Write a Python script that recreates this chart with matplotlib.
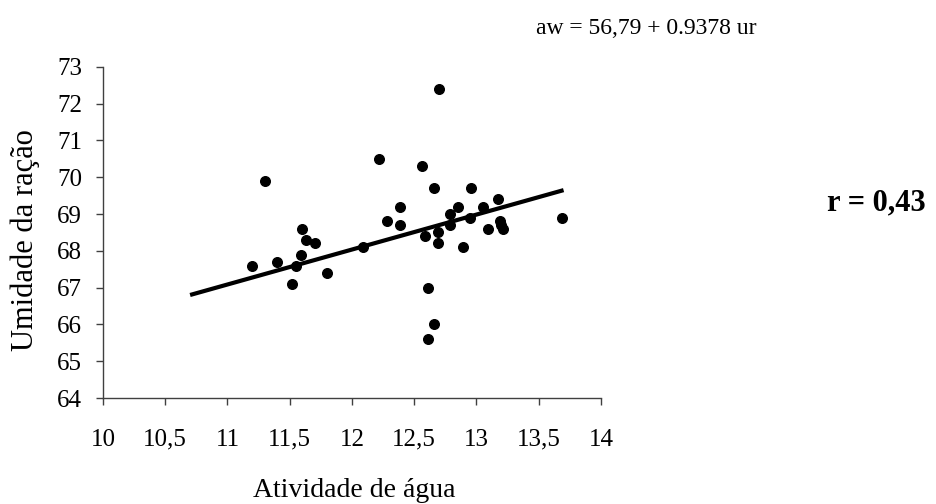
import numpy as np
import matplotlib.pyplot as plt

plt.rcParams['font.family'] = ['Liberation Serif', 'DejaVu Serif']

# dados
aw = [11.3, 11.2, 11.4, 11.6, 11.63, 11.7, 11.59, 11.55, 11.52, 11.8,
      12.7, 12.22, 12.56, 12.66, 12.96, 12.39, 12.28, 12.39, 12.09, 12.85,
      12.79, 12.79, 13.05, 13.17, 12.95, 12.59, 12.69, 12.69, 12.89, 13.09,
      13.19, 13.2, 13.21, 13.69, 12.61, 12.66, 12.61]
ur = [69.9, 67.6, 67.7, 68.6, 68.3, 68.2, 67.9, 67.6, 67.1, 67.4,
      72.4, 70.5, 70.3, 69.7, 69.7, 69.2, 68.8, 68.7, 68.1, 69.2,
      69.0, 68.7, 69.2, 69.4, 68.9, 68.4, 68.5, 68.2, 68.1, 68.6,
      68.8, 68.7, 68.6, 68.9, 67.0, 66.0, 65.6]

# reta ajustada (extremos lidos)
line_x = [10.7, 13.7]
line_y = [66.8, 69.65]

xticks = [10, 10.5, 11, 11.5, 12, 12.5, 13, 13.5, 14]
xlabels = ["10", "10,5", "11", "11,5", "12", "12,5", "13", "13,5", "14"]
yticks = list(range(64, 74))

fig = plt.figure(figsize=(9.36, 5.04), dpi=100)
ax = fig.add_axes([0.110, 0.2103, 0.532, 0.657])

ax.plot(line_x, line_y, color='black', lw=3, solid_capstyle='butt', zorder=2)
ax.scatter(aw, ur, s=48, color='black', zorder=3)

ax.set_xlim(10, 14)
ax.set_ylim(64, 73)
ax.set_xticks(xticks)
ax.set_xticklabels(xlabels)
ax.set_yticks(yticks)

for side in ['top', 'right']:
    ax.spines[side].set_visible(False)
for side in ['left', 'bottom']:
    ax.spines[side].set_color('#404040')
    ax.spines[side].set_linewidth(1)
ax.tick_params(direction='out', length=5, width=1, color='#404040',
               labelsize=18)
ax.tick_params(axis='x', pad=17)
ax.tick_params(axis='y', pad=10)

ax.set_xlabel("Atividade de água", fontsize=20, va='baseline')
ax.xaxis.set_label_coords(0.378, 0.014, transform=fig.transFigure)
ax.set_ylabel("Umidade da ração", fontsize=22, va='center')
ax.yaxis.set_label_coords(0.027, 0.524, transform=fig.transFigure)

fig.text(0.690, 0.944, "aw = 56,79 + 0.9378 ur", fontsize=17, ha='center', va='center')
fig.text(0.936, 0.597, "r = 0,43", fontsize=22, fontweight='bold', ha='center', va='center')

fig.savefig("out.png", dpi=100)
